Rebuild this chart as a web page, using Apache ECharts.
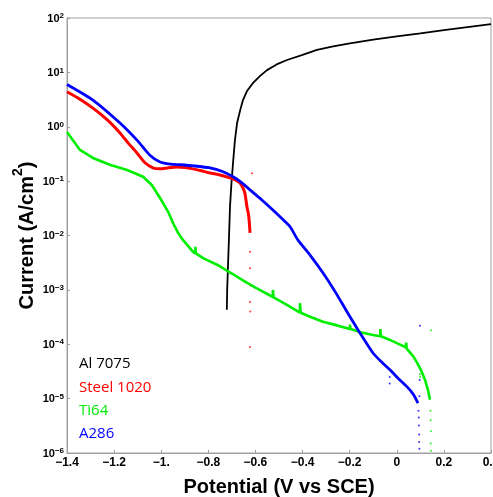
<!DOCTYPE html>
<html>
<head>
<meta charset="utf-8">
<script src="https://cdn.jsdelivr.net/npm/echarts@6/dist/echarts.min.js"></script>
<style>html,body{margin:0;padding:0;background:#fff;}#c{width:493px;height:497px;}</style>
</head>
<body>
<div id="c"></div>
<script>
// ---------- data ----------
const seriesNames = ['Al 7075', 'Steel 1020', 'Ti64', 'A286'];
const seriesColors = ['#000000', '#ff0000', '#00ee00', '#0000ff'];

const al7075X = [-0.7215, -0.720, -0.716, -0.712, -0.708, -0.702, -0.695, -0.687, -0.678, -0.665, -0.653, -0.635, -0.61, -0.58, -0.551, -0.51, -0.466, -0.40, -0.339, -0.27, -0.199, -0.10, 0.0, 0.1, 0.2, 0.3, 0.4];
const al7075Y = [4.3e-4, 1e-3, 3.2e-3, 1e-2, 0.034, 0.09, 0.22, 0.57, 1.17, 2.0, 3.1, 4.6, 6.4, 8.6, 11, 14, 16.9, 21, 25.9, 30, 34, 40, 46, 52, 60, 68, 77];

const steelX = [-1.4, -1.35, -1.29, -1.23, -1.175, -1.14, -1.103, -1.07, -1.035, -1.005, -0.97, -0.933, -0.90, -0.865, -0.83, -0.793, -0.75, -0.708, -0.685, -0.666, -0.655, -0.645, -0.636, -0.63, -0.627, -0.623];
const steelY = [4.4, 3.3, 2.2, 1.35, 0.77, 0.5, 0.33, 0.22, 0.175, 0.168, 0.176, 0.182, 0.178, 0.168, 0.155, 0.141, 0.13, 0.115, 0.105, 0.093, 0.078, 0.061, 0.0336, 0.025, 0.0195, 0.0112];
const steelDotsX = [-0.623, -0.623, -0.622, -0.623, -0.622, -0.623, -0.615];
const steelDotsY = [5e-3, 2.5e-3, 1.2e-3, 6e-4, 4e-4, 8.9e-5, 0.14];

const ti64X = [-1.4, -1.345, -1.29, -1.218, -1.145, -1.077, -1.04, -1.005, -0.993, -0.97, -0.95, -0.93, -0.908, -0.88, -0.865, -0.855, -0.855, -0.853, -0.82, -0.763, -0.70, -0.653, -0.60, -0.526, -0.526, -0.523, -0.47, -0.411, -0.411, -0.408, -0.36, -0.313, -0.25, -0.199, -0.199, -0.196, -0.15, -0.101, -0.07, -0.07, -0.067, -0.029, 0.0, 0.038, 0.04, 0.042, 0.07, 0.086, 0.105, 0.12, 0.133, 0.141];
const ti64Y = [0.8, 0.375, 0.267, 0.2, 0.16, 0.12, 0.085, 0.049, 0.04, 0.027, 0.017, 0.0115, 0.0083, 0.006, 0.005, 0.0047, 0.0062, 0.0047, 0.0038, 0.0029, 0.002, 0.0015, 0.0011, 7.4e-4, 1e-3, 7.3e-4, 5.4e-4, 3.8e-4, 5.7e-4, 3.8e-4, 3.1e-4, 2.6e-4, 2.2e-4, 1.9e-4, 2.3e-4, 1.9e-4, 1.65e-4, 1.48e-4, 1.4e-4, 1.9e-4, 1.4e-4, 1.2e-4, 1.05e-4, 8.8e-5, 1.07e-4, 8.3e-5, 6e-5, 4.6e-5, 3.2e-5, 2.2e-5, 1.4e-5, 9.5e-6];
const ti64DotsX = [0.143, 0.144, 0.145, 0.144, 0.145, 0.145, 0.098, 0.099];
const ti64DotsY = [6e-6, 4e-6, 2.5e-6, 1.5e-6, 1.1e-6, 1.8e-4, 2.8e-5, 2.5e-5];

const a286X = [-1.4, -1.29, -1.175, -1.10, -1.048, -1.005, -0.96, -0.92, -0.86, -0.793, -0.74, -0.695, -0.66, -0.623, -0.575, -0.526, -0.49, -0.453, -0.42, -0.369, -0.313, -0.26, -0.212, -0.156, -0.101, -0.06, -0.029, 0.0, 0.043, 0.07, 0.09];
const a286Y = [6.0, 3.1, 1.17, 0.55, 0.30, 0.225, 0.205, 0.2, 0.19, 0.175, 0.15, 0.12, 0.095, 0.069, 0.046, 0.0295, 0.021, 0.0145, 0.0083, 0.0044, 0.00204, 9e-4, 4e-4, 1.6e-4, 6.9e-5, 4.5e-5, 3.4e-5, 2.5e-5, 1.66e-5, 1.2e-5, 8.3e-6];
const a286DotsX = [0.092, 0.093, 0.094, 0.095, 0.095, 0.096, 0.098, 0.097, 0.096, -0.03, -0.03];
const a286DotsY = [6e-6, 4.5e-6, 3.2e-6, 2.2e-6, 1.6e-6, 1.2e-6, 2.2e-4, 2.2e-5, 1.1e-5, 2.5e-5, 1.9e-5];

const xTickMin = -1.4, xTickMax = 0.4, xTickStep = 0.2;
const yMin = 1e-6, yMax = 1e2;
// -----------------------------------------------------

function pairs(xs, ys) { return xs.map((x, i) => [x, ys[i]]); }
const MINUS = '\u2212';
function xLabel(v) {
  const r = Math.round(v * 10) / 10;
  if (r === 0) return '0';
  const a = Math.abs(r);
  const s = (a === 1) ? '1.' : a.toFixed(1);
  return (r < 0 ? MINUS : '') + s;
}
function yLabel(v) {
  const e = Math.round(Math.log10(v));
  return '{b|10}{s|' + (e < 0 ? MINUS + (-e) : String(e)) + '}';
}

const lines = [
  { name: seriesNames[0], data: pairs(al7075X, al7075Y), color: seriesColors[0], width: 1.8, smooth: false },
  { name: seriesNames[1], data: pairs(steelX, steelY), color: seriesColors[1], width: 3, smooth: 0.2 },
  { name: seriesNames[2], data: pairs(ti64X, ti64Y), color: seriesColors[2], width: 2.6, smooth: false },
  { name: seriesNames[3], data: pairs(a286X, a286Y), color: seriesColors[3], width: 2.8, smooth: 0.2 }
];
const dots = [
  { name: seriesNames[1], data: pairs(steelDotsX, steelDotsY), color: seriesColors[1] },
  { name: seriesNames[2], data: pairs(ti64DotsX, ti64DotsY), color: seriesColors[2] },
  { name: seriesNames[3], data: pairs(a286DotsX, a286DotsY), color: seriesColors[3] }
];

const series = [];
lines.forEach(l => series.push({
  type: 'line', name: l.name, data: l.data, showSymbol: false, symbol: 'none',
  smooth: l.smooth,
  lineStyle: { color: l.color, width: l.width }, itemStyle: { color: l.color },
  animation: false, z: 3
}));
dots.forEach(d => series.push({
  type: 'scatter', name: d.name, data: d.data, symbolSize: 2,
  itemStyle: { color: d.color }, animation: false, z: 2
}));

const tickFont = 'Liberation Sans, Arial, sans-serif';
const chart = echarts.init(document.getElementById('c'), null, { renderer: 'canvas' });
chart.setOption({
  backgroundColor: '#fff',
  animation: false,
  grid: { left: 67, right: 2, top: 18, bottom: 44, containLabel: false, outerBoundsMode: 'none', show: true, borderColor: '#a0a0a0', borderWidth: 1, backgroundColor: 'transparent' },
  legend: {
    orient: 'vertical', left: 74, top: 354, padding: 0, itemGap: 3.3,
    icon: 'none', itemWidth: 0, itemHeight: 10, selectedMode: false,
    textStyle: { fontFamily: 'Open Sans, Noto Sans, sans-serif', fontSize: 15, lineHeight: 20 },
    data: seriesNames.map((n, i) => ({ name: n, textStyle: { color: seriesColors[i] } }))
  },
  xAxis: {
    type: 'value', min: xTickMin, max: xTickMax, interval: xTickStep,
    name: 'Potential (V vs SCE)', nameLocation: 'middle', nameGap: 24, nameMoveOverlap: false,
    nameTextStyle: { fontFamily: tickFont, fontWeight: 'bold', fontSize: 20, color: '#000' },
    axisLine: { show: true, onZero: false, lineStyle: { color: '#a0a0a0', width: 1 } },
    axisTick: { show: true, inside: true, length: 3, lineStyle: { color: '#a0a0a0' } },
    axisLabel: { formatter: xLabel, margin: 4, color: '#000', fontFamily: tickFont, fontWeight: 'bold', fontSize: 12, showMaxLabel: true, showMinLabel: true, hideOverlap: false },
    splitLine: { show: false }
  },
  yAxis: {
    type: 'log', logBase: 10, min: yMin, max: yMax,
    name: '{a|Current (A/cm}{s|2}{a|)}', nameLocation: 'middle', nameGap: 30, nameRotate: 90, nameMoveOverlap: false,
    nameTextStyle: {
      rich: {
        a: { fontFamily: tickFont, fontWeight: 'bold', fontSize: 20, color: '#000', lineHeight: 26, verticalAlign: 'bottom' },
        s: { fontFamily: tickFont, fontWeight: 'bold', fontSize: 14, color: '#000', lineHeight: 14, verticalAlign: 'top', padding: [0, 0, 12, 0] }
      }
    },
    axisLine: { show: true, onZero: false, lineStyle: { color: '#a0a0a0', width: 1 } },
    axisTick: { show: true, inside: true, length: 3, lineStyle: { color: '#a0a0a0' } },
    axisLabel: {
      formatter: yLabel, margin: 3, showMaxLabel: true, showMinLabel: true, hideOverlap: false,
      rich: {
        b: { fontFamily: tickFont, fontWeight: 'bold', fontSize: 11, color: '#000', lineHeight: 12, verticalAlign: 'bottom' },
        s: { fontFamily: tickFont, fontWeight: 'bold', fontSize: 8, color: '#000', lineHeight: 8, verticalAlign: 'top', padding: [0, 0, 6, 0] }
      }
    },
    splitLine: { show: false }
  },
  series: series
});
</script>
</body>
</html>
